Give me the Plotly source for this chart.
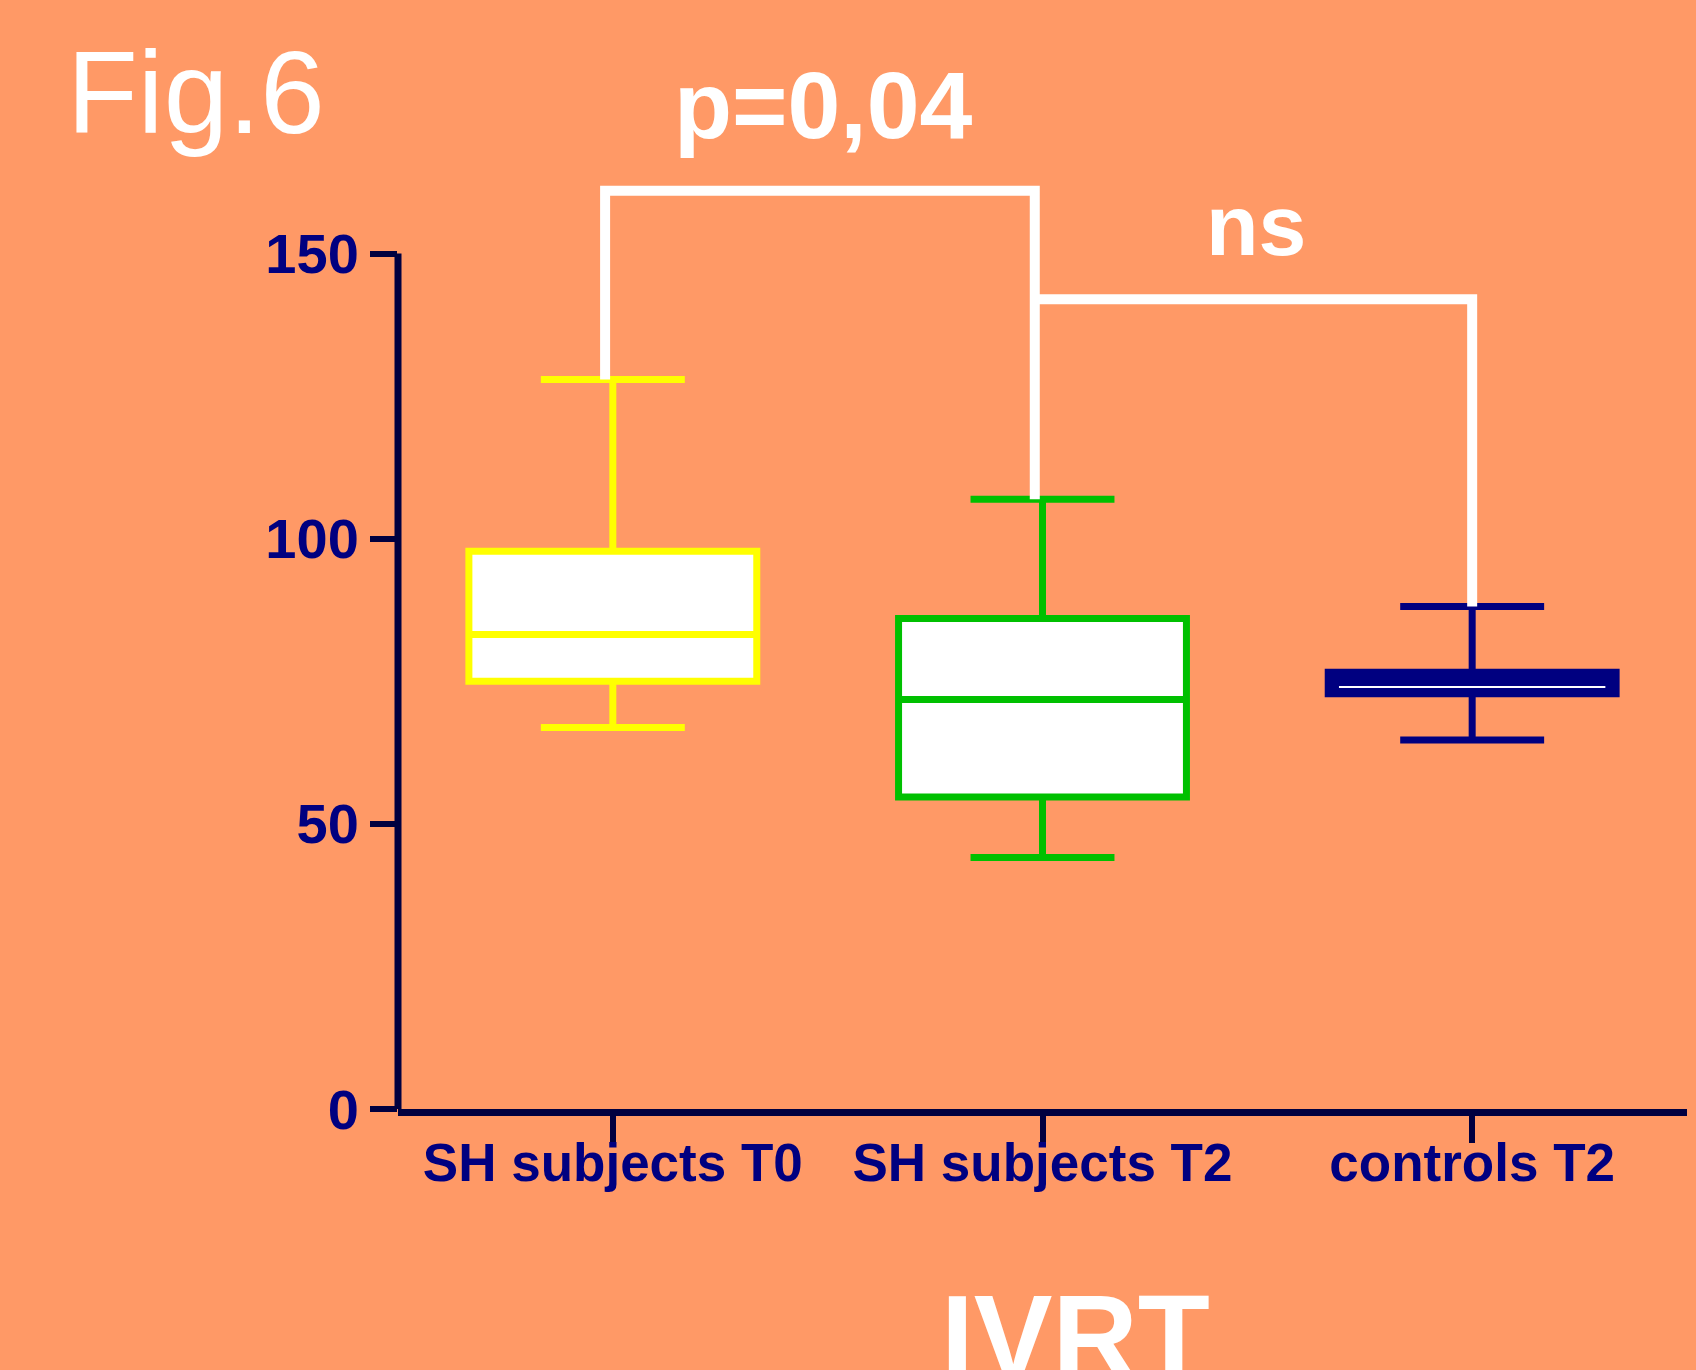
import plotly.graph_objects as go

# IVRT box plot values
categories = ['SH subjects T0', 'SH subjects T2', 'controls T2']
lower_whisker = [66.9, 44.1, 64.7]
q1_vals = [75.0, 54.7, 72.8]
medians = [83.2, 71.8, 74.0]
q3_vals = [97.8, 86.0, 76.6]
upper_whisker = [127.9, 106.9, 88.1]

# significance brackets: (left group, right group), height, label
bracket_pairs = [(0, 1), (1, 2)]
bracket_heights = [161, 142]
bracket_labels = ['p=0,04', 'ns']

y_ticks = [0, 50, 100, 150]

BG = '#FF9966'
AXIS = '#000040'
NAVY = '#000080'
box_colors = ['#FFFF00', '#00C000', NAVY]
box_fills = ['white', 'white', NAVY]
FONT = 'Liberation Sans, Arial, sans-serif'
BRACKET_SHIFT = -0.018  # brackets sit a touch left of the box centres

fig = go.Figure()

for i, cat in enumerate(categories):
    fig.add_trace(go.Box(
        x=[i], q1=[q1_vals[i]], median=[medians[i]], q3=[q3_vals[i]],
        lowerfence=[lower_whisker[i]], upperfence=[upper_whisker[i]],
        name=cat, width=0.67, whiskerwidth=0.5,
        line=dict(color=box_colors[i], width=7),
        fillcolor=box_fills[i], boxpoints=False, hoverinfo='skip',
        showlegend=False
    ))

# white median line inside the solid navy control box
fig.add_shape(type='line', xref='x', yref='y',
              x0=2 - 0.31, x1=2 + 0.31, y0=medians[2], y1=medians[2],
              line=dict(color='white', width=2))

# significance brackets
for (a, b), h in zip(bracket_pairs, bracket_heights):
    xa = a + BRACKET_SHIFT
    xb = b + (BRACKET_SHIFT if b < 2 else 0)
    ys = [upper_whisker[a] if a == 0 else h, h, h, upper_whisker[b]]
    fig.add_trace(go.Scatter(
        x=[xa, xa, xb, xb], y=ys, mode='lines', line=dict(color='white', width=10),
        hoverinfo='skip', showlegend=False
    ))

fig.add_annotation(x=0.49, y=1.067, xref='x', yref='paper', text=bracket_labels[0],
                   xanchor='center', yanchor='middle', showarrow=False,
                   font=dict(family=FONT, size=95, color='white', weight='bold'))
fig.add_annotation(x=1.497, y=155, xref='x', yref='y', text=bracket_labels[1],
                   xanchor='center', yanchor='middle', showarrow=False,
                   font=dict(family=FONT, size=86, color='white', weight='bold'))
fig.add_annotation(x=-0.258, y=1.08, xref='paper', yref='paper', text='Fig.6',
                   xanchor='left', yanchor='middle', showarrow=False,
                   font=dict(family=FONT, size=116, color='white'))
fig.add_annotation(x=1.076, y=-0.242, xref='x', yref='paper', text='IVRT',
                   xanchor='center', yanchor='middle', showarrow=False,
                   font=dict(family=FONT, size=118, color='white', weight='bold'))

# y axis line only spans 0..150
fig.add_shape(type='line', xref='paper', yref='y', x0=0, x1=0, y0=0, y1=150,
              line=dict(color=AXIS, width=7))

fig.update_layout(
    width=1696, height=1370,
    paper_bgcolor=BG, plot_bgcolor=BG,
    margin=dict(l=398, r=9, t=168, b=261),
    xaxis=dict(range=[-0.5, 2.5], tickvals=[0, 1, 2], ticktext=categories,
               showgrid=False, zeroline=False, showline=True,
               linecolor=AXIS, linewidth=7, ticks='outside', ticklen=27,
               tickwidth=6, tickcolor=AXIS, ticklabelstandoff=-26,
               tickfont=dict(family=FONT, size=53, color=NAVY, weight='bold')),
    yaxis=dict(range=[0, 165], tickvals=y_ticks, showgrid=False, zeroline=False,
               showline=False, ticks='outside', ticklen=27, tickwidth=6,
               tickcolor=AXIS,
               tickfont=dict(family=FONT, size=56, color=NAVY, weight='bold')),
)

fig.write_html("out.html", config={'displayModeBar': False},
               post_script="document.body.style.margin='0';")
